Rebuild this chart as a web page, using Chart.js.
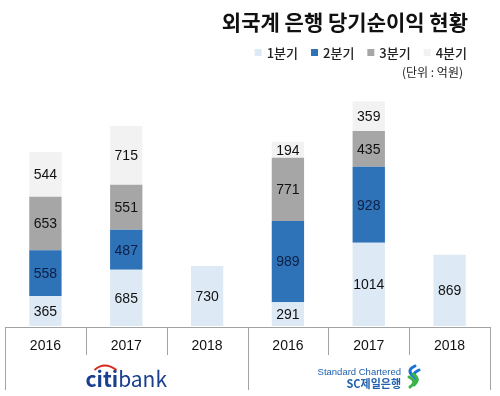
<!DOCTYPE html>
<html>
<head>
<meta charset="utf-8">
<script src="https://cdn.jsdelivr.net/npm/chart.js@4"></script>
<style>
  html, body { margin: 0; padding: 0; background: #fff; }
  #wrap { width: 500px; height: 396px; }
</style>
</head>
<body>
<div id="wrap"><canvas id="mainChart"></canvas></div>
<script>
"use strict";

const years = ["2016", "2017", "2018", "2016", "2017", "2018"];
const seriesNames = ["1분기", "2분기", "3분기", "4분기"];
const q1 = [365, 685, 730, 291, 1014, 869];
const q2 = [558, 487, null, 989, 928, null];
const q3 = [653, 551, null, 771, 435, null];
const q4 = [544, 715, null, 194, 359, null];
const colors = ["#ddeaf6", "#2e72b8", "#a6a6a6", "#f2f2f2"];
const labelColors = ["#111", "#0e1f45", "#111", "#111"];

const chartTitle = "외국계 은행 당기순이익 현황";
const unitText = "(단위 : 억원)";

const numFont = '14px "Liberation Sans", Arial, sans-serif';
const krFont = '"Noto Sans CJK KR", sans-serif';

// header: title, legend, unit
var headerPlugin = {
    id: "header",
    afterDraw: function (chart) {
        var ctx = chart.ctx;
        ctx.save();
        ctx.fillStyle = "#111";
        ctx.textBaseline = "middle";
        ctx.textAlign = "right";
        ctx.font = "bold 21px " + krFont;
        ctx.fillText(chartTitle, 468, 22);

        ctx.font = "500 13px " + krFont;
        var x = 467;
        for (var i = chart.data.datasets.length - 1; i >= 0; i--) {
            var ds = chart.data.datasets[i];
            var w = ctx.measureText(ds.label).width;
            ctx.fillStyle = "#222";
            ctx.fillText(ds.label, x, 53);
            x -= w + 5;
            ctx.fillStyle = ds.backgroundColor;
            ctx.fillRect(x - 7, 49, 7, 7);
            x -= 7 + 13;
        }

        ctx.fillStyle = "#222";
        ctx.font = "12px " + krFont;
        ctx.fillText(unitText, 463, 72);
        ctx.restore();
    }
};

// segment values
var valuePlugin = {
    id: "values",
    afterDatasetsDraw: function (chart) {
        var ctx = chart.ctx;
        ctx.save();
        ctx.font = numFont;
        ctx.textAlign = "center";
        ctx.textBaseline = "middle";
        chart.data.datasets.forEach(function (ds, di) {
            var meta = chart.getDatasetMeta(di);
            meta.data.forEach(function (bar, i) {
                var v = ds.data[i];
                if (v == null) return;
                ctx.fillStyle = labelColors[di];
                ctx.fillText(String(v), bar.x, (bar.y + bar.base) / 2 + 1);
            });
        });
        ctx.restore();
    }
};

// table lines and bank logos under the axis
var tablePlugin = {
    id: "table",
    afterDraw: function (chart) {
        var ctx = chart.ctx;
        var xs = chart.scales.x;
        var top = chart.chartArea.bottom + 1;
        var left = chart.chartArea.left, right = chart.chartArea.right;
        var step = (right - left) / years.length;
        ctx.save();
        ctx.strokeStyle = "#a3a3a3";
        ctx.lineWidth = 1;
        ctx.beginPath();
        ctx.moveTo(left, top + 0.5);
        ctx.lineTo(right, top + 0.5);
        for (var i = 0; i <= years.length; i++) {
            var lx = Math.round(left + i * step) + 0.5;
            var full = (i === 0 || i === 3 || i === years.length);
            ctx.moveTo(lx, top);
            ctx.lineTo(lx, full ? 390 : 355);
        }
        ctx.stroke();

        // citibank
        var cx = (xs.getPixelForValue(0) + xs.getPixelForValue(2)) / 2;
        ctx.textBaseline = "alphabetic";
        ctx.textAlign = "left";
        ctx.font = "bold 21px " + krFont;
        var w1 = ctx.measureText("citi").width;
        ctx.font = "21px " + krFont;
        var w2 = ctx.measureText("bank").width;
        var sx = cx - (w1 + w2) / 2;
        ctx.fillStyle = "#1a3f8e";
        ctx.font = "bold 21px " + krFont;
        ctx.fillText("citi", sx, 387);
        ctx.font = "21px " + krFont;
        ctx.fillText("bank", sx + w1, 387);
        ctx.strokeStyle = "#d52b1e";
        ctx.lineWidth = 2;
        ctx.beginPath();
        ctx.moveTo(sx + 9, 370);
        ctx.quadraticCurveTo(sx + 19, 361, sx + 31, 370);
        ctx.stroke();

        // Standard Chartered
        ctx.fillStyle = "#2161ad";
        ctx.textAlign = "right";
        ctx.font = '9.5px "Liberation Sans", Arial, sans-serif';
        ctx.fillText("Standard Chartered", 401, 375);
        ctx.font = "bold 11px " + krFont;
        ctx.fillText("SC제일은행", 401, 388);
        ctx.lineWidth = 3;
        ctx.lineCap = "round";
        ctx.strokeStyle = "#1a72d8";
        ctx.beginPath();
        ctx.moveTo(415, 366);
        ctx.quadraticCurveTo(406, 370, 413, 376);
        ctx.moveTo(419, 370);
        ctx.quadraticCurveTo(410, 374, 417, 380);
        ctx.stroke();
        ctx.strokeStyle = "#39b54a";
        ctx.beginPath();
        ctx.moveTo(409, 377);
        ctx.quadraticCurveTo(418, 381, 410, 387);
        ctx.moveTo(413, 374);
        ctx.quadraticCurveTo(421, 379, 414, 385);
        ctx.stroke();
        ctx.restore();
    }
};

var chartSelector = document.getElementById("mainChart");
var seriesData = [q1, q2, q3, q4];

var chart = new Chart(chartSelector, {
    type: "bar",
    data: {
        labels: years,
        datasets: seriesNames.map(function (name, i) {
            return {
                label: name,
                data: seriesData[i],
                backgroundColor: colors[i],
                borderWidth: 0,
                barPercentage: 0.4,
                categoryPercentage: 1.0
            };
        })
    },
    options: {
        responsive: true,
        maintainAspectRatio: false,
        animation: false,
        layout: {
            padding: { top: 84, left: 5, right: 10, bottom: 6 }
        },
        plugins: {
            legend: { display: false },
            title: { display: false },
            tooltip: { enabled: false }
        },
        scales: {
            x: {
                stacked: true,
                grid: { display: false, drawTicks: false },
                border: { display: false },
                ticks: {
                    padding: 12,
                    color: "#111",
                    font: { family: '"Liberation Sans", Arial, sans-serif', size: 14 }
                },
                afterFit: function (s) { s.height = 64; }
            },
            y: {
                stacked: true,
                display: false,
                min: 0,
                max: 2950
            }
        }
    },
    plugins: [valuePlugin, tablePlugin, headerPlugin]
});
</script>
</body>
</html>
